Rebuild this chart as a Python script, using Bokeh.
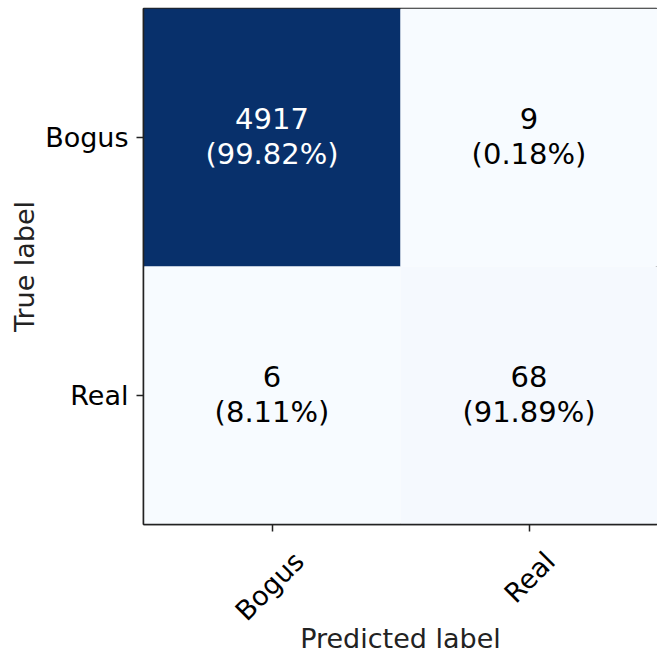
import math
from bokeh.plotting import figure
from bokeh.models import (ColumnDataSource, FactorRange, LinearColorMapper, LinearAxis,
                          FixedTicker)
from bokeh.palettes import Blues256
from bokeh.transform import transform
from bokeh.core.properties import value
from bokeh.embed import file_html
from bokeh.resources import INLINE

labels = ["Bogus", "Real"]
true_labels = ["Bogus", "Bogus", "Real", "Real"]
pred_labels = ["Bogus", "Real", "Bogus", "Real"]
counts = [4917, 9, 6, 68]

row_tot = {}
for t, c in zip(true_labels, counts):
    row_tot[t] = row_tot.get(t, 0) + c
pct = ["(%.2f%%)" % (100.0 * c / row_tot[t]) for t, c in zip(true_labels, counts)]
cnt = [str(c) for c in counts]
vmax = max(counts)
tcol = ["white" if c > vmax / 2 else "black" for c in counts]

src = ColumnDataSource(dict(t=true_labels, p=pred_labels, c=counts, cnt=cnt, pct=pct, tc=tcol))

FONT = "DejaVu Sans"
p = figure(width=657, height=657, output_backend="svg", toolbar_location=None,
           x_range=FactorRange(*labels, range_padding=0),
           y_range=FactorRange(*labels[::-1], range_padding=0),
           min_border_left=143, min_border_right=0, min_border_top=8, min_border_bottom=133)

mapper = LinearColorMapper(palette=list(Blues256[::-1]), low=0, high=vmax)
p.rect(x="p", y="t", width=1, height=1, source=src,
       fill_color=transform("c", mapper), line_color=None)
p.text(x="p", y="t", text="cnt", source=src, text_color="tc", text_align="center",
       text_baseline="middle", y_offset=-19, text_font_size="29px", text_font=value(FONT))
p.text(x="p", y="t", text="pct", source=src, text_color="tc", text_align="center",
       text_baseline="middle", y_offset=16, text_font_size="29px", text_font=value(FONT))

p.grid.visible = False
p.outline_line_color = "#222222"
p.outline_line_width = 1.5
for ax in (p.xaxis[0], p.yaxis[0]):
    ax.axis_line_color = "#222222"
    ax.axis_line_width = 1.5
    ax.major_tick_line_color = "#222222"
    ax.major_tick_line_width = 1.5
    ax.major_tick_out = 7
    ax.major_tick_in = 0
    ax.minor_tick_line_color = None
    ax.major_label_text_font = FONT
    ax.major_label_text_font_size = "27px"
    ax.major_label_text_color = "black"
    ax.axis_label_text_font = FONT
    ax.axis_label_text_font_size = "27px"
    ax.axis_label_text_font_style = "normal"
    ax.axis_label_text_color = "#222222"
p.yaxis.axis_label = "True label"
p.yaxis.major_label_orientation = "horizontal"
p.yaxis.major_label_standoff = 8
p.yaxis.axis_label_standoff = 2

# inner x axis: tick marks only
p.xaxis.major_label_text_color = None
p.xaxis.major_label_standoff = 0

# outer x axis: the rotated tick labels (centred under each tick) and the axis title
label_shift = [0.105, 0.082]
label_pos = [i + 0.5 + s for i, s in enumerate(label_shift)]
overrides = {}
for pos, lab in zip(label_pos, labels):
    overrides[pos] = lab
    overrides["%g" % pos] = lab
ax2 = LinearAxis(ticker=FixedTicker(ticks=label_pos, minor_ticks=[]),
                 major_label_overrides=overrides,
                 axis_line_color=None, major_tick_line_color=None, minor_tick_line_color=None,
                 major_tick_out=0, major_tick_in=0,
                 major_label_orientation=math.pi / 4, major_label_standoff=25,
                 major_label_text_font=FONT, major_label_text_font_size="27px",
                 major_label_text_color="black",
                 axis_label="Predicted label", axis_label_standoff=-17,
                 axis_label_text_font=FONT, axis_label_text_font_size="27px",
                 axis_label_text_font_style="normal", axis_label_text_color="#222222")
p.add_layout(ax2, "below")

open("out.html", "w").write(file_html(p, INLINE))
